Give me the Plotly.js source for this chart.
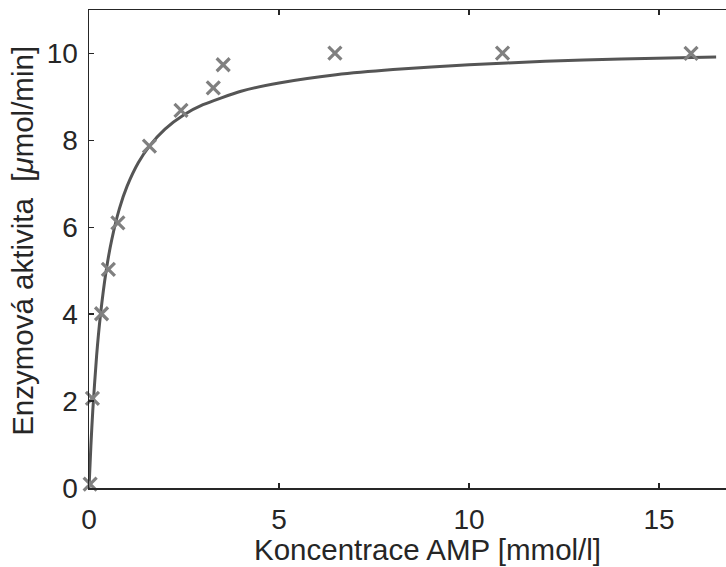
<!DOCTYPE html>
<html>
<head>
<meta charset="utf-8">
<script src="https://cdn.plot.ly/plotly-3.0.1.min.js"></script>
<style>
  html, body { margin: 0; padding: 0; background: #ffffff; }
  #chart { width: 726px; height: 567px; }
</style>
</head>
<body>
<div id="chart"></div>
<script>
// Measured data (AMP concentration [mmol/l] vs enzyme activity [umol/min])
const concAMP = [0.03, 0.09, 0.33, 0.51, 0.76, 1.59, 2.42, 3.27, 3.53, 6.47, 10.88, 15.84];
const activity = [0.09, 2.06, 4.01, 5.03, 6.10, 7.87, 8.69, 9.21, 9.74, 10.01, 10.01, 10.00];

// Fitted curve
const fitX = [0, 0.05, 0.1, 0.2, 0.3, 0.45, 0.6, 0.8, 1.0, 1.3, 1.6, 2.0, 2.5, 3.0, 4.0, 5.0, 6.5, 8.0, 10.0, 12.0, 14.0, 16.5];
const fitY = [0, 0.98, 1.79, 3.04, 3.97, 4.99, 5.72, 6.43, 6.94, 7.49, 7.88, 8.26, 8.59, 8.82, 9.13, 9.32, 9.51, 9.63, 9.74, 9.82, 9.87, 9.92];

const xTicks = [0, 5, 10, 15];
const yTicks = [0, 2, 4, 6, 8, 10];

const xTitle = 'Koncentrace AMP [mmol/l]';
const yTitle = 'Enzymová aktivita \u00a0[<i>μ</i>mol/min]';

const fontFam = '"Liberation Sans", Arial, Helvetica, sans-serif';
const ink = '#262626';
const tickSize = 28;
const titleSize = 29.5;

const traces = [
  {
    x: fitX, y: fitY, type: 'scatter', mode: 'lines',
    line: { color: '#555555', width: 3, shape: 'spline', smoothing: 0.6 },
    hoverinfo: 'skip', showlegend: false
  },
  {
    x: concAMP, y: activity, type: 'scatter', mode: 'markers',
    marker: { symbol: 'x-thin-open', size: 13, color: '#808080', line: { color: '#808080', width: 3.2 } },
    showlegend: false, cliponaxis: false
  }
];

const layout = {
  width: 726, height: 567,
  margin: { l: 89, r: 0, t: 10, b: 79 },
  paper_bgcolor: '#ffffff', plot_bgcolor: '#ffffff',
  font: { family: fontFam, size: tickSize, color: ink },
  showlegend: false,
  xaxis: {
    range: [0, 16.76],
    tickvals: xTicks, ticktext: xTicks.map(String),
    ticks: 'inside', ticklen: 5, tickwidth: 1.5, tickcolor: ink,
    showline: true, linecolor: ink, linewidth: 1.5, mirror: 'ticks',
    showgrid: false, zeroline: false,
    ticklabelstandoff: 6,
    tickfont: { family: fontFam, size: tickSize, color: ink }
  },
  yaxis: {
    range: [0, 11],
    tickvals: yTicks, ticktext: yTicks.map(String),
    ticks: 'inside', ticklen: 5, tickwidth: 1.5, tickcolor: ink,
    showline: true, linecolor: ink, linewidth: 1.5, mirror: false,
    showgrid: false, zeroline: false,
    ticklabelstandoff: 4,
    tickfont: { family: fontFam, size: tickSize, color: ink }
  },
  annotations: [
    {
      text: xTitle, showarrow: false,
      xref: 'paper', yref: 'paper', x: 0.532, y: -0.129,
      xanchor: 'center', yanchor: 'middle',
      font: { family: fontFam, size: titleSize, color: ink }
    },
    {
      text: yTitle, textangle: -90, showarrow: false,
      xref: 'paper', yref: 'paper', x: 0, y: 0.517,
      xanchor: 'center', yanchor: 'middle', xshift: -66,
      font: { family: fontFam, size: titleSize, color: ink }
    }
  ]
};

Plotly.newPlot('chart', traces, layout, { displayModeBar: false, staticPlot: true });
</script>
</body>
</html>
